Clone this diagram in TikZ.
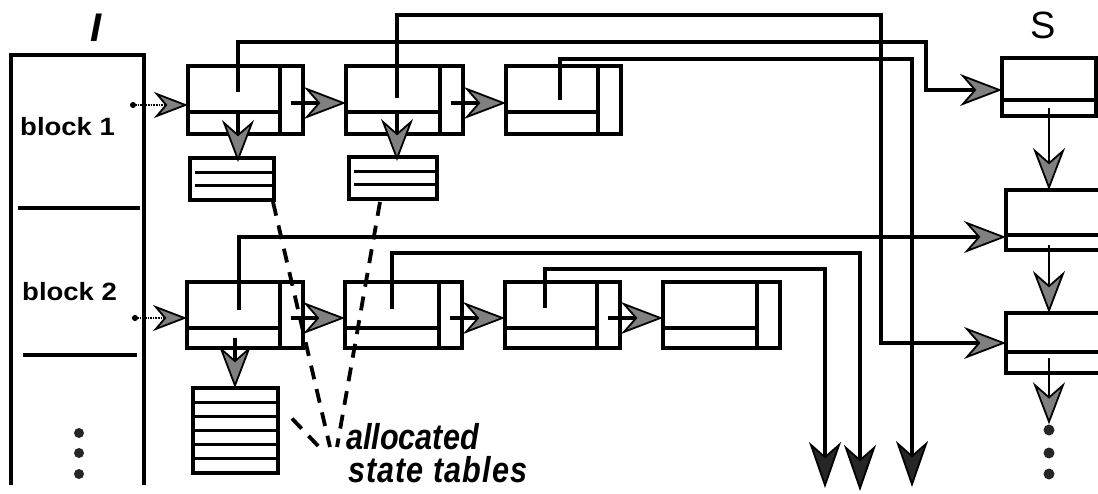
\documentclass[tikz,border=0pt]{standalone}
\usepackage{fontspec}
\setmainfont{Liberation Sans}
\newfontfamily\blockfont[FakeStretch=1.1]{Liberation Sans}
\newfontfamily\allocfont[FakeStretch=0.85]{Liberation Sans}
\usetikzlibrary{arrows.meta,calc}
\begin{document}
\begin{tikzpicture}[x=1pt,y=-1pt,
  every node/.style={inner sep=0pt},
  bx/.style={draw,line width=3.2pt,inner sep=0pt,outer sep=0pt},
  lnode/.style={bx,path picture={
     \draw[line width=3.2pt] ([xshift=-23pt]path picture bounding box.north east) -- ([xshift=-23pt]path picture bounding box.south east);
     \draw[line width=3.2pt] ([yshift=-46pt]path picture bounding box.north west) -- ([xshift=-23pt,yshift=-46pt]path picture bounding box.north east);}},
  snode/.style={bx,path picture={\draw[line width=3.2pt] ([yshift=#1]path picture bounding box.south west) -- ([yshift=#1]path picture bounding box.south east);}},
  conn/.style={line width=3.2pt},
  arrg/.style={conn,-{Stealth[length=42pt,width=32pt,inset=14pt,fill=black!50,line width=1.8pt]}},
  arrd/.style={conn,-{Stealth[length=46pt,width=32pt,inset=14pt,fill=black!85,line width=1.8pt]}},
  arrs/.style={line width=1.6pt,densely dotted,{Circle[length=6pt]}-{Stealth[length=34pt,width=26pt,inset=11pt,fill=black!50,line width=1.8pt]}},
  dashl/.style={line width=3.8pt,dash pattern=on 14pt off 10pt},
  dotn/.style={circle,fill=black!85,minimum size=11pt},
  tline/.style={line width=3pt},
]
\useasboundingbox (0,0) rectangle (1098,494);
\clip (0,0) rectangle (1098,494);

% I table
\draw[conn] (11,485) -- (11,55) -- (144,55) -- (144,485);
\draw[conn] (18,208) -- (140,208);
\draw[conn] (23,355) -- (137,355);
\node[font=\fontsize{40}{44}\selectfont\bfseries\itshape, anchor=base] (Ilbl) at (96,42) {I};
\node[font=\blockfont\bfseries\fontsize{25}{30}\selectfont, anchor=base west] (b1) at (20,136) {block 1};
\node[font=\blockfont\bfseries\fontsize{25}{30}\selectfont, anchor=base west] (b2) at (22,301) {block 2};
\node[dotn,minimum size=10pt] (id1) at (79,433) {};
\node[dotn,minimum size=10pt] (id2) at (79,453) {};
\node[dotn,minimum size=10pt] (id3) at (79,474) {};

% list nodes
\node[lnode,minimum width=115pt,minimum height=68pt] (A1) at (245.5,100) {};
\node[lnode,minimum width=117pt,minimum height=68pt] (A2) at (404.5,100) {};
\node[lnode,minimum width=115pt,minimum height=68pt] (A3) at (563.5,100) {};
\node[lnode,minimum width=116pt,minimum height=66pt] (B1) at (245,315) {};
\node[lnode,minimum width=117pt,minimum height=66pt] (B2) at (403.5,315) {};
\node[lnode,minimum width=115pt,minimum height=66pt] (B3) at (562.5,315) {};
\node[lnode,minimum width=117pt,minimum height=66pt] (B4) at (721.5,315) {};

% state tables
\node[bx,minimum width=84pt,minimum height=42pt] (T1) at (232,179) {};
\node[bx,minimum width=88pt,minimum height=42pt] (T2) at (393,178) {};
\node[bx,minimum width=85pt,minimum height=85pt] (T3) at (235.5,430.5) {};
\foreach \f in {0.35,0.65} {
  \draw[tline] ($(T1.north west)!\f!(T1.south west)+(5,0)$) -- ($(T1.north east)!\f!(T1.south east)$);
  \draw[tline] ($(T2.north west)!\f!(T2.south west)+(5,0)$) -- ($(T2.north east)!\f!(T2.south east)$);
}
\foreach \i in {1,...,5}
  \draw[tline] ($(T3.north west)!\i/6!(T3.south west)$) -- ($(T3.north east)!\i/6!(T3.south east)$);

% S column
\node[font=\fontsize{38}{42}\selectfont, anchor=base] (Slbl) at (1043,39) {S};
\node[snode=16pt,minimum width=94pt,minimum height=58pt] (S1) at (1049,87) {};
\node[snode=15pt,minimum width=100pt,minimum height=60pt] (S2) at (1056,220) {};
\node[snode=21pt,minimum width=100pt,minimum height=60pt] (S3) at (1056,343) {};
\node[dotn] (sd1) at (1049,430) {};
\node[dotn] (sd2) at (1049,453) {};
\node[dotn] (sd3) at (1049,474) {};

% pointer origins and routing
\coordinate (A1p) at ($(A1.north west)+(50,26)$);
\coordinate (A2p) at ($(A2.north west)+(51,32)$);
\coordinate (A3p) at ($(A3.north west)+(54,34)$);
\coordinate (B1p) at ($(B1.north west)+(52,28)$);
\coordinate (B2p) at ($(B2.north west)+(47,27)$);
\coordinate (B3p) at ($(B3.north west)+(40,26)$);
\coordinate (r1) at (926,42);
\coordinate (r2) at (881,15);
\coordinate (r3) at (912,59);
\coordinate (r5) at (860,253);
\coordinate (r6) at (825,269);
\coordinate (e3) at (912,487);
\coordinate (e5) at (860,491);
\coordinate (e6) at (825,488);

\draw[arrg] (A1p) |- (r1) |- ([yshift=-3pt]S1.west);
\draw[arrg] (A2p) |- (r2) |- (S3.west);
\draw[arrd] (A3p) |- (r3) -- (e3);
\draw[arrg] (B1p) |- ([yshift=-17pt]S2.west);
\draw[arrd] (B2p) |- (r5) -- (e5);
\draw[arrd] (B3p) |- (r6) -- (e6);

% next pointers
\draw[arrg] ([xshift=-12pt,yshift=-3pt]A1.east) -- ([yshift=-3pt]A2.west);
\draw[arrg] ([xshift=-12pt,yshift=-3pt]A2.east) -- ([yshift=-3pt]A3.west);
\draw[arrg] ([xshift=-12pt,yshift=-3pt]B1.east) -- ([yshift=-3pt]B2.west);
\draw[arrg] ([xshift=-12pt,yshift=-3pt]B2.east) -- ([yshift=-3pt]B3.west);
\draw[arrg] ([xshift=-12pt,yshift=-3pt]B3.east) -- ([yshift=-3pt]B4.west);

% from I
\coordinate (I1) at (130,105);
\coordinate (I2) at (132,318);
\draw[arrs] (I1) -- ([yshift=-5pt]A1.west);
\draw[arrs] (I2) -- ([yshift=-3pt]B1.west);

% to state tables
\coordinate (A1d) at ($(A1.north west)+(50,44)$);
\coordinate (A2d) at ($(A2.north west)+(51,46)$);
\coordinate (B1d) at ($(B1.north west)+(48,56)$);
\draw[arrg] (A1d) -- ([yshift=-4pt]A1d |- T1.north);
\draw[arrg] (A2d) -- ([yshift=-4pt]A2d |- T2.north);
\draw[arrg] (B1d) -- (B1d |- T3.north);

% S chain
\draw[arrg,line width=2.4pt] ($(S1.south)+(0,-8)$) -- (S1.south |- S2.north);
\draw[arrg,line width=2.4pt] ($(S2.south -| S1.south)+(0,-5)$) -- (S1.south |- S3.north);
\draw[arrg,line width=2.4pt] ($(S3.south -| S1.south)+(0,-15)$) -- (sd1.north);

% label and dashed pointers
\node[font=\allocfont\bfseries\itshape\fontsize{36}{40}\selectfont, anchor=base west] (al1) at (346,449) {allocated};
\node[font=\allocfont\bfseries\itshape\fontsize{36}{40}\selectfont\addfontfeature{LetterSpace=3}, anchor=base west] (al2) at (348,482) {state tables};
\coordinate (d1) at (330,447);
\coordinate (d2) at (337,447);
\coordinate (d3) at (322,450);
\draw[dashl] ([xshift=-1pt,yshift=-2pt]T1.south east) -- (d1);
\draw[dashl] ([xshift=-13pt,yshift=-3pt]T2.south) -- (d2);
\draw[dashl] ([xshift=14pt,yshift=12pt]T3.east) -- (d3);
\end{tikzpicture}
\end{document}
